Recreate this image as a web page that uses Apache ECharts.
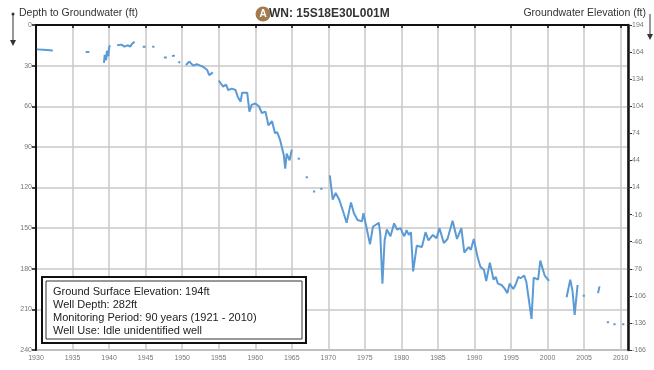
<!DOCTYPE html>
<html><head><meta charset="utf-8">
<script src="https://cdn.jsdelivr.net/npm/echarts@6/dist/echarts.min.js"></script>
<style>html,body{margin:0;padding:0;background:#fff}#c{width:654px;height:370px}</style>
</head><body><div id="c"></div>
<script>
// Measurement years (null = gap in record)
const years = [
1930.1,1931.0,1932.3,null,
1936.8,1937.3,null,
1939.3,1939.4,1939.6,1939.7,1939.9,1940.0,1940.1,null,
1941.1,1941.7,1942.1,1942.6,1942.9,1943.2,1943.5,null,
1944.6,1945.0,null,1945.9,1946.2,null,1947.5,1947.9,null,1948.6,1949.0,null,1949.5,1949.7,null,
1950.5,1951.0,1951.5,1952.0,1952.5,1952.9,1953.4,1953.7,1954.2,null,
1955.0,1955.6,1956.0,1956.3,1956.8,1957.3,1957.6,1958.0,1958.2,1958.9,1959.2,1959.5,1960.0,1960.5,1960.9,1961.4,1961.8,1962.3,1962.7,1963.0,1963.4,1963.9,1964.1,1964.3,1964.7,1965.0,null,
1965.8,1966.1,null,1966.9,1967.2,null,1967.9,1968.2,null,1968.9,1969.2,null,
1970.2,1970.6,1971.0,1971.5,1972.1,1972.5,1973.1,1973.5,1974.0,1974.6,1974.8,1975.2,1975.7,1976.1,1976.9,1977.1,1977.4,1977.7,1978.0,1978.5,1979.0,1979.4,1979.9,1980.1,1980.4,1980.7,1981.0,1981.3,1981.6,1982.1,1982.8,1983.3,1983.7,1984.3,1984.8,1985.2,1985.8,1986.3,1987.0,1987.6,1988.2,1988.6,1989.2,1989.5,1989.9,1990.4,1990.8,1991.3,1991.6,1992.1,1992.6,1992.9,1993.2,1993.7,1994.1,1994.5,1994.8,1995.3,1995.6,1996.0,1996.3,1996.8,1997.1,1997.8,1998.1,1998.7,1999.0,1999.6,2000.2,null,
2002.6,2003.1,2003.4,2003.7,2004.1,null,
2004.8,2005.1,null,2006.9,2007.1,null,2008.1,2008.4,null,2009.0,2009.3,null,2010.2,2010.5
];
// Depth to groundwater (ft)
const depthFt = [
18,18.3,18.8,null,
20,20,null,
28,22,26,19,23,17,15,null,
15,14.5,16,15,16,13.5,12.5,null,
16,16,null,16,16,null,24,24,null,23,22.5,null,27,28,null,
29.5,27,30,29,30,31,33,37,35,null,
41,45.5,44,48,47,48,53,56.6,50,50,64,59,58,60,65,64,74,71,80,79,85,96,106,95,100,92,null,
98.5,99,null,112.5,112.5,null,123,123,null,121,121,null,
111,129,124,129,139,146,131,139,144,145,139,149,162,149,146,154,191,159,151,156,146.5,151,150,153,156,151.5,155,153,182,163,164,153,159,155,157.5,150,161,158,144.5,158,150,168,164,166,158,171,178.5,181,189,175.5,188,186,191,192,194.5,198,191,195,192,186,187,185,190,217,186.5,188,174,185,189,null,
201,188,196,214,192,null,
200,200,null,198,193,null,219.5,219.5,null,221,221,null,221,221
];
const infoLines = [
  'Ground Surface Elevation: 194ft',
  'Well Depth: 282ft',
  'Monitoring Period: 90 years (1921 - 2010)',
  'Well Use: Idle unidentified well'
];
const surfaceElev = 194;

const data = years.map((y, i) => (y == null || depthFt[i] == null) ? ['-', '-'] : [y, depthFt[i]]);
const chart = echarts.init(document.getElementById('c'), null, {renderer: 'canvas'});
const lab = {fontSize: 7, color: '#777', fontFamily: 'Liberation Sans, Arial, sans-serif'};
const font = 'Liberation Sans, Arial, sans-serif';
const infoText = infoLines.join('\n');
chart.setOption({
  animation: false,
  grid: {left: 36, right: 26, top: 25, bottom: 20, show: true, borderColor: '#444', borderWidth: 1},
  xAxis: {
    type: 'value', min: 1930, max: 2011, interval: 5,
    axisLine: {show: true, lineStyle: {color: '#111', width: 2}},
    axisTick: {show: true, length: 3, lineStyle: {color: '#111', width: 1.5}},
    axisLabel: Object.assign({margin: 5, showMaxLabel: false, formatter: v => (v % 5 === 0 ? String(v) : '')}, lab),
    splitLine: {show: true, lineStyle: {color: '#c8c8c8', width: 1.5}}
  },
  yAxis: [{
    type: 'value', inverse: true, min: 0, max: 240, interval: 30,
    axisLine: {show: true, lineStyle: {color: '#111', width: 2}},
    axisTick: {show: true, length: 4, lineStyle: {color: '#111', width: 1.5}},
    axisLabel: Object.assign({margin: 4}, lab),
    splitLine: {show: true, lineStyle: {color: '#c8c8c8', width: 1.5}}
  }, {
    type: 'value', position: 'right', inverse: true, min: 0, max: 360, interval: 30,
    axisLine: {show: true, lineStyle: {color: '#111', width: 2.5}},
    axisTick: {show: true, length: 4, lineStyle: {color: '#333', width: 1}},
    axisLabel: Object.assign({margin: 4, formatter: v => String(surfaceElev - v)}, lab),
    splitLine: {show: false}
  }],
  series: [{
    type: 'line', data: data, showSymbol: false, connectNulls: false,
    lineStyle: {color: '#5b9bd5', width: 2}, itemStyle: {color: '#5b9bd5'}, z: 3
  }],
  graphic: [
    {type: 'text', left: 19, top: 8, style: {text: 'Depth to Groundwater (ft)', font: '10.5px ' + font, fill: '#333'}},
    {type: 'line', shape: {x1: 13, y1: 14, x2: 13, y2: 42}, style: {stroke: '#333', lineWidth: 1}},
    {type: 'polygon', shape: {points: [[10, 40], [16, 40], [13, 46]]}, style: {fill: '#333'}},
    {type: 'circle', shape: {cx: 13, cy: 14, r: 1.5}, style: {fill: '#333'}},
    {type: 'text', right: 8, top: 8, style: {text: 'Groundwater Elevation (ft)', font: '10.5px ' + font, fill: '#333'}},
    {type: 'line', shape: {x1: 650, y1: 14, x2: 650, y2: 36}, style: {stroke: '#333', lineWidth: 1}},
    {type: 'polygon', shape: {points: [[647, 34], [653, 34], [650, 40]]}, style: {fill: '#333'}},
    {type: 'circle', shape: {cx: 263, cy: 14, r: 7.5}, style: {fill: '#a27a4e'}},
    {type: 'text', x: 263, y: 14, style: {text: 'A', font: 'bold 10px ' + font, fill: '#fff', textAlign: 'center', textVerticalAlign: 'middle'}},
    {type: 'text', x: 269, y: 14, style: {text: 'WN: 15S18E30L001M', font: 'bold 12px ' + font, fill: '#333', textVerticalAlign: 'middle'}},
    {type: 'rect', shape: {x: 42, y: 277, width: 264, height: 66}, style: {fill: '#fff', stroke: '#111', lineWidth: 2}, z: 10},
    {type: 'rect', shape: {x: 46, y: 281, width: 256, height: 58}, style: {fill: 'none', stroke: '#333', lineWidth: 1}, z: 10},
    {type: 'text', x: 53, y: 285, style: {text: infoText, font: '11px ' + font, fill: '#222', lineHeight: 13}, z: 11}
  ]
});
</script></body></html>
